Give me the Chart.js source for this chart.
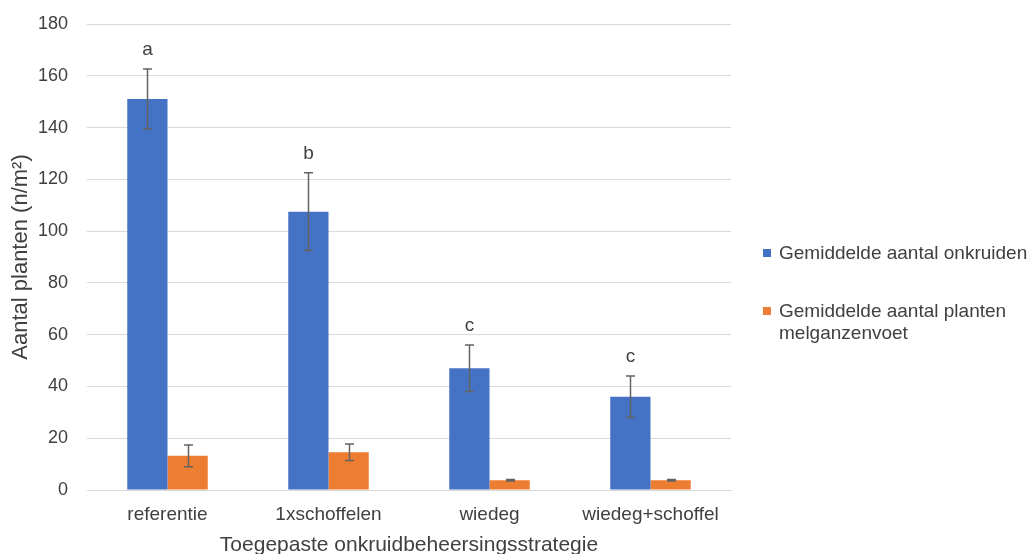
<!DOCTYPE html>
<html>
<head>
<meta charset="utf-8">
<script src="https://cdn.jsdelivr.net/npm/chart.js@4"></script>
<style>
  html, body { margin: 0; padding: 0; background: #ffffff; }
  #wrap { width: 1036px; height: 554px; position: relative; }
</style>
</head>
<body>
<div id="wrap"><canvas id="c" width="1036" height="554"></canvas></div>
<script>
// Behandelingen en meetwaarden
const categories = ['referentie', '1xschoffelen', 'wiedeg', 'wiedeg+schoffel'];
const seriesNames = ['Gemiddelde aantal onkruiden', ['Gemiddelde aantal planten', 'melganzenvoet']];
const onkruiden = [151, 107.5, 47, 36];
const onkruidenFout = [11.6, 15, 9, 8];
const melganzenvoet = [13.2, 14.6, 3.8, 3.8];
const melganzenvoetFout = [4.2, 3.2, 0.3, 0.3];
const significantie = ['a', 'b', 'c', 'c'];
const yTicks = [0, 20, 40, 60, 80, 100, 120, 140, 160, 180];

const colors = ['#4472C4', '#ED7D31'];
const textColor = '#404040';
const fontFamily = '"Liberation Sans", Arial, sans-serif';

// Foutbalken en letters boven de balken
const errorBarPlugin = {
  id: 'errorBars',
  afterDatasetsDraw(chart) {
    const ctx = chart.ctx;
    const y = chart.scales.y;
    const errs = [onkruidenFout, melganzenvoetFout];
    ctx.save();
    ctx.strokeStyle = '#636363';
    ctx.lineWidth = 1.5;
    chart.data.datasets.forEach((ds, di) => {
      const meta = chart.getDatasetMeta(di);
      meta.data.forEach((bar, i) => {
        const v = ds.data[i];
        const e = errs[di][i];
        const top = y.getPixelForValue(v + e);
        const bot = y.getPixelForValue(v - e);
        const x = Math.round(bar.x) + 0.5;
        ctx.beginPath();
        ctx.moveTo(x, top); ctx.lineTo(x, bot);
        ctx.moveTo(x - 4.5, top); ctx.lineTo(x + 4.5, top);
        ctx.moveTo(x - 4.5, bot); ctx.lineTo(x + 4.5, bot);
        ctx.stroke();
        if (di === 0) {
          ctx.fillStyle = textColor;
          ctx.font = '19px ' + fontFamily;
          ctx.textAlign = 'center';
          ctx.textBaseline = 'middle';
          ctx.fillText(significantie[i], x, top - 19);
        }
      });
    });
    ctx.restore();
  }
};

// Legenda rechts van de grafiek
const legendPlugin = {
  id: 'sideLegend',
  afterDraw(chart) {
    const ctx = chart.ctx;
    ctx.save();
    ctx.font = '19px ' + fontFamily;
    ctx.textBaseline = 'middle';
    ctx.textAlign = 'left';
    const rows = [253, 311];
    seriesNames.forEach((name, i) => {
      const yy = rows[i];
      ctx.fillStyle = colors[i];
      ctx.fillRect(763, yy - 4, 8, 8);
      ctx.fillStyle = textColor;
      const lines = Array.isArray(name) ? name : [name];
      lines.forEach((ln, k) => ctx.fillText(ln, 779, yy + 1 + k * 22));
    });
    ctx.restore();
  }
};

new Chart(document.getElementById('c'), {
  type: 'bar',
  data: {
    labels: categories,
    datasets: [
      { label: 'Gemiddelde aantal onkruiden', data: onkruiden, backgroundColor: colors[0] },
      { label: 'Gemiddelde aantal planten melganzenvoet', data: melganzenvoet, backgroundColor: colors[1] }
    ]
  },
  options: {
    responsive: false,
    animation: false,
    devicePixelRatio: 1,
    layout: { padding: { top: 24, right: 305, left: 0, bottom: 0 } },
    datasets: { bar: { barPercentage: 1, categoryPercentage: 0.5 } },
    plugins: { legend: { display: false }, tooltip: { enabled: false } },
    scales: {
      x: {
        grid: { display: false, drawTicks: false },
        border: { display: true, color: '#d9d9d9', width: 1 },
        ticks: { color: textColor, font: { family: fontFamily, size: 19 }, padding: 13 },
        title: { display: true, text: 'Toegepaste onkruidbeheersingsstrategie', color: textColor,
                 font: { family: fontFamily, size: 21 }, padding: { top: 0, bottom: -4 } },
        afterFit(s) { s.height = 64; }
      },
      y: {
        min: 0, max: 180,
        afterBuildTicks(s) { s.ticks = yTicks.map(v => ({ value: v })); },
        grid: { color: '#d9d9d9', lineWidth: 1, drawTicks: false },
        border: { display: false },
        ticks: { color: textColor, font: { family: fontFamily, size: 18 }, padding: 19 },
        title: { display: true, text: 'Aantal planten (n/m²)', color: textColor,
                 font: { family: fontFamily, size: 22 }, padding: { top: 8, bottom: 0 } },
        afterFit(s) { s.width = 87; s.paddingTop = 0; s.paddingBottom = 0; }
      }
    }
  },
  plugins: [errorBarPlugin, legendPlugin]
});
</script>
</body>
</html>
